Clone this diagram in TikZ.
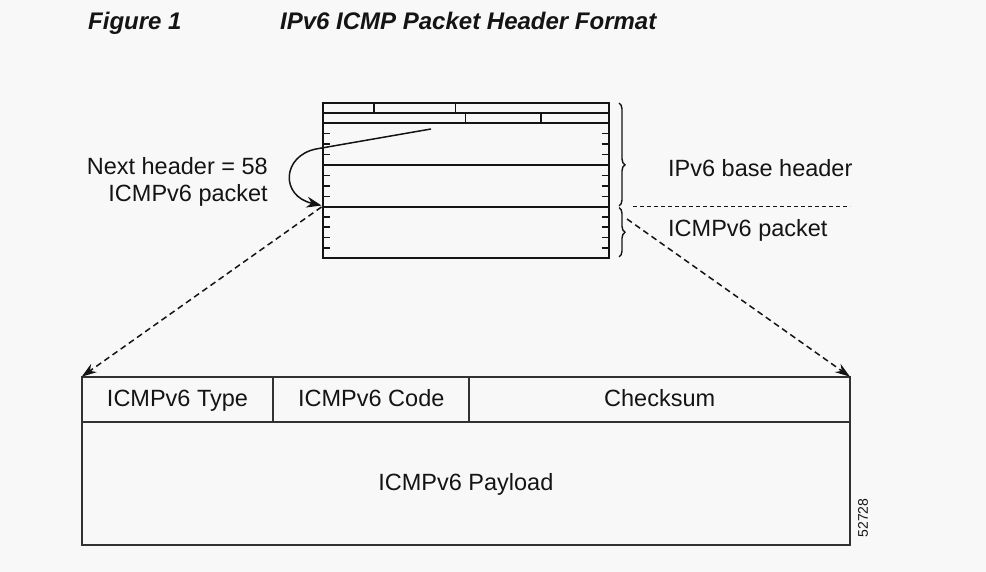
\documentclass[tikz,border=0pt]{standalone}
\usepackage{fontspec}
\setmainfont{Liberation Sans}
\usetikzlibrary{arrows.meta,decorations.pathreplacing}
\definecolor{bgc}{RGB}{248,248,248}
\definecolor{ink}{RGB}{20,20,20}
\definecolor{boxc}{RGB}{50,50,50}
\begin{document}
\begin{tikzpicture}[x=1pt,y=-1pt,
  pktline/.style={line width=1.7pt, draw=ink},
  tickline/.style={line width=1.5pt, draw=ink},
  lbl/.style={font=\fontsize{23.5}{27}\selectfont, inner sep=0pt, text=ink},
  ttl/.style={font=\fontsize{24}{28}\selectfont\bfseries\itshape, inner sep=0pt, text=ink, anchor=base west},
  cell/.style={draw=boxc, line width=1.7pt, inner sep=0pt, outer sep=0pt, anchor=north west,
     font=\fontsize{23.5}{27}\selectfont, text=ink, text height=16pt, text depth=2pt},
  dasharrow/.style={line width=1.5pt, draw=ink, dash pattern=on 6pt off 4pt,
     -{Stealth[length=15pt,width=10pt]}},
  bracestyle/.style={decorate, line width=1.4pt, draw=ink}
]
\fill[bgc] (0,0) rectangle (986,572);
\useasboundingbox (0,0) rectangle (986,572);

% title
\node[ttl] (fig) at (88,30) {Figure 1};
\node[ttl] (title) at (280,30) {IPv6 ICMP Packet Header Format};

% IPv6 packet
\node[pktline, draw, inner sep=0pt, outer sep=0pt, anchor=north west,
      minimum width=286.3pt, minimum height=155.6pt] (pkt) at (322.7,102.7) {};
\foreach \yy in {112.7,122.7,165,206.7}
  \draw[pktline] (322.7,\yy) -- (609,\yy);
\draw[tickline] (374,102.7) -- (374,112.7);
\draw[tickline] (455.7,102.7) -- (455.7,112.7);
\draw[tickline] (465.7,112.7) -- (465.7,122.7);
\draw[tickline] (541,112.7) -- (541,122.7);
\foreach \yy in {133.3,144,154.5,175.5,186,196.5,217,227,237.5,248}{
  \draw[tickline] (322.7,\yy) -- (330,\yy);
  \draw[tickline] (601.7,\yy) -- (609,\yy);
}

% braces
\draw[bracestyle, decoration={brace, amplitude=6pt, aspect=0.6}] (619,103) -- (619,206);
\draw[bracestyle, decoration={brace, amplitude=6pt, aspect=0.5}] (619,207.5) -- (619,257);
\draw[line width=1.1pt, draw=ink, dash pattern=on 4pt off 3pt] (633,206.7) -- (850,206.7);

% labels
\node[lbl, anchor=base east] (nh) at (268,175) {Next header = 58};
\node[lbl, anchor=base east] (icl) at (268,202) {ICMPv6 packet};
\node[lbl, anchor=base west] (basehdr) at (668,177) {IPv6 base header};
\node[lbl, anchor=base west] (icr) at (668,236.7) {ICMPv6 packet};

% curved arrow from next header field
\coordinate (nhfield) at (431,129);
\coordinate (nhbend) at (316,149);
\coordinate (icmpstart) at (321.5,205.5);
\draw[line width=1.5pt, draw=ink, -{Stealth[length=15pt,width=11pt]}]
  (nhfield) -- (nhbend) .. controls (282,156) and (280,196) .. (icmpstart);

% ICMPv6 packet box
\node[cell, minimum width=191.6pt, minimum height=45.6pt] (typecell) at (81.7,376.7) {ICMPv6 Type};
\node[cell, minimum width=196pt, minimum height=45.6pt] (codecell) at (273.3,376.7) {ICMPv6 Code};
\node[cell, minimum width=380.7pt, minimum height=45.6pt] (checkcell) at (469.3,376.7) {Checksum};
\node[cell, minimum width=768.3pt, minimum height=122.7pt] (payload) at (81.7,422.3) {ICMPv6 Payload};

% dashed expansion arrows
\coordinate (lstart) at (321.5,207);
\coordinate (rstart) at (627,219);
\draw[dasharrow] (lstart) -- (typecell.north west);
\draw[dasharrow] (rstart) -- (checkcell.north east);

% figure number
\node[rotate=90, font=\fontsize{14}{16}\selectfont, text=ink, inner sep=0pt] (fignum) at (863,518) {52728};
\end{tikzpicture}
\end{document}
